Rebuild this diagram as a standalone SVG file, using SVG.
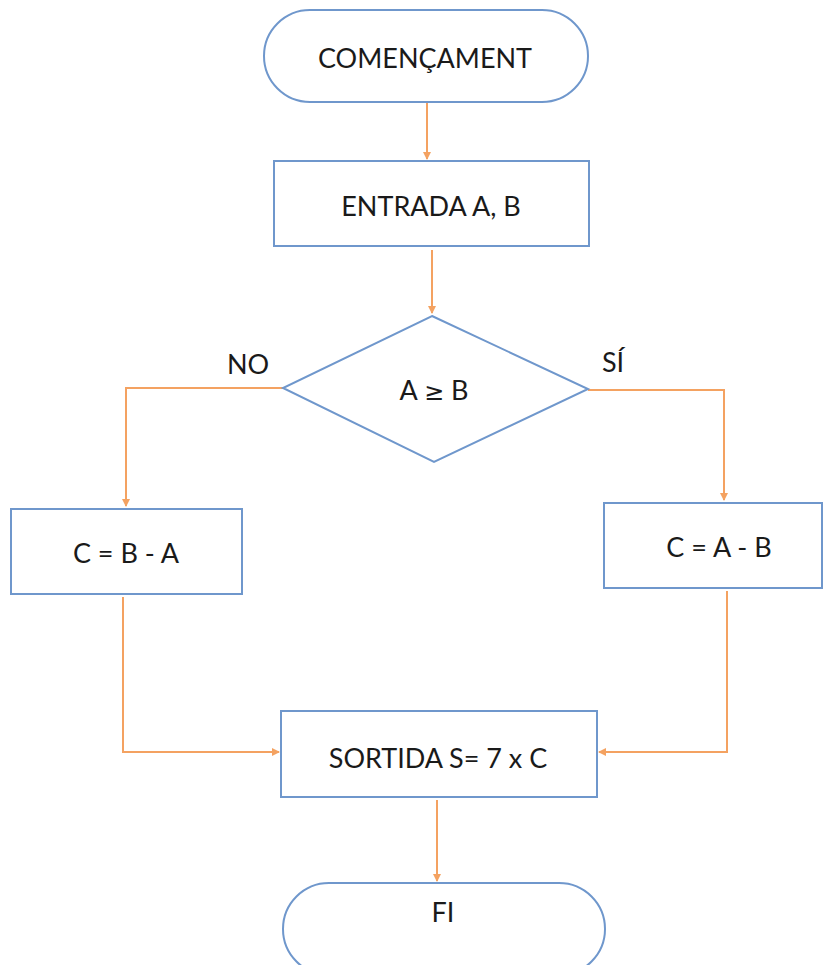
<svg xmlns="http://www.w3.org/2000/svg" width="824" height="965" viewBox="0 0 824 965">
  <style>
    .shape { fill: #ffffff; stroke: #6f97cc; stroke-width: 2; }
    .link { fill: none; stroke: #f4a261; stroke-width: 2; }
    .lbl { font-family: Lato, "Liberation Sans", sans-serif; font-size: 27px; fill: #1a1a1a; text-anchor: middle; }
    .sym { font-family: "DejaVu Sans", sans-serif; font-size: 24px; }
  </style>
  <defs>
    <marker id="arrow" markerWidth="8" markerHeight="8" refX="7" refY="4" orient="auto" markerUnits="userSpaceOnUse">
      <path d="M0,0 L8,4 L0,8 Z" fill="#f4a261"/>
    </marker>
  </defs>

  <rect width="824" height="965" fill="#ffffff"/>

  <!-- connectors -->
  <g id="connectors">
    <path class="link" d="M427,102 L427,159" marker-end="url(#arrow)"/>
    <path class="link" d="M432,250 L432,313" marker-end="url(#arrow)"/>
    <path class="link" d="M283,388 L126,388 L126,506" marker-end="url(#arrow)"/>
    <path class="link" d="M588,390 L724,390 L724,500" marker-end="url(#arrow)"/>
    <path class="link" d="M123,597 L123,752 L279,752" marker-end="url(#arrow)"/>
    <path class="link" d="M727,591 L727,752 L599,752" marker-end="url(#arrow)"/>
    <path class="link" d="M437,800 L437,881" marker-end="url(#arrow)"/>
  </g>

  <!-- start terminator -->
  <g id="start">
    <rect class="shape" x="264" y="10" width="324" height="92" rx="46" ry="46"/>
    <text class="lbl" x="425" y="68">COMENÇAMENT</text>
  </g>

  <!-- input -->
  <g id="input">
    <rect class="shape" x="274" y="161" width="315" height="85"/>
    <text class="lbl" x="431" y="216">ENTRADA A, B</text>
  </g>

  <!-- decision -->
  <g id="decision">
    <polygon class="shape" points="432,316 588,389 434,462 283,388"/>
    <text class="lbl" x="434" y="400">A <tspan class="sym">≥</tspan> B</text>
  </g>

  <!-- branch labels -->
  <text class="lbl" x="248" y="374">NO</text>
  <text class="lbl" x="613" y="372">SÍ</text>

  <!-- no branch -->
  <g id="calc-no">
    <rect class="shape" x="11" y="509" width="231" height="85"/>
    <text class="lbl" x="126" y="563">C = B - A</text>
  </g>

  <!-- yes branch -->
  <g id="calc-yes">
    <rect class="shape" x="604" y="503" width="218" height="85"/>
    <text class="lbl" x="719" y="557">C = A - B</text>
  </g>

  <!-- output -->
  <g id="output">
    <rect class="shape" x="281" y="711" width="316" height="86"/>
    <text class="lbl" x="438" y="768">SORTIDA S= 7 x C</text>
  </g>

  <!-- end terminator -->
  <g id="end">
    <rect class="shape" x="283" y="883" width="322" height="92" rx="46" ry="46"/>
    <text class="lbl" x="443" y="922">FI</text>
  </g>
</svg>
